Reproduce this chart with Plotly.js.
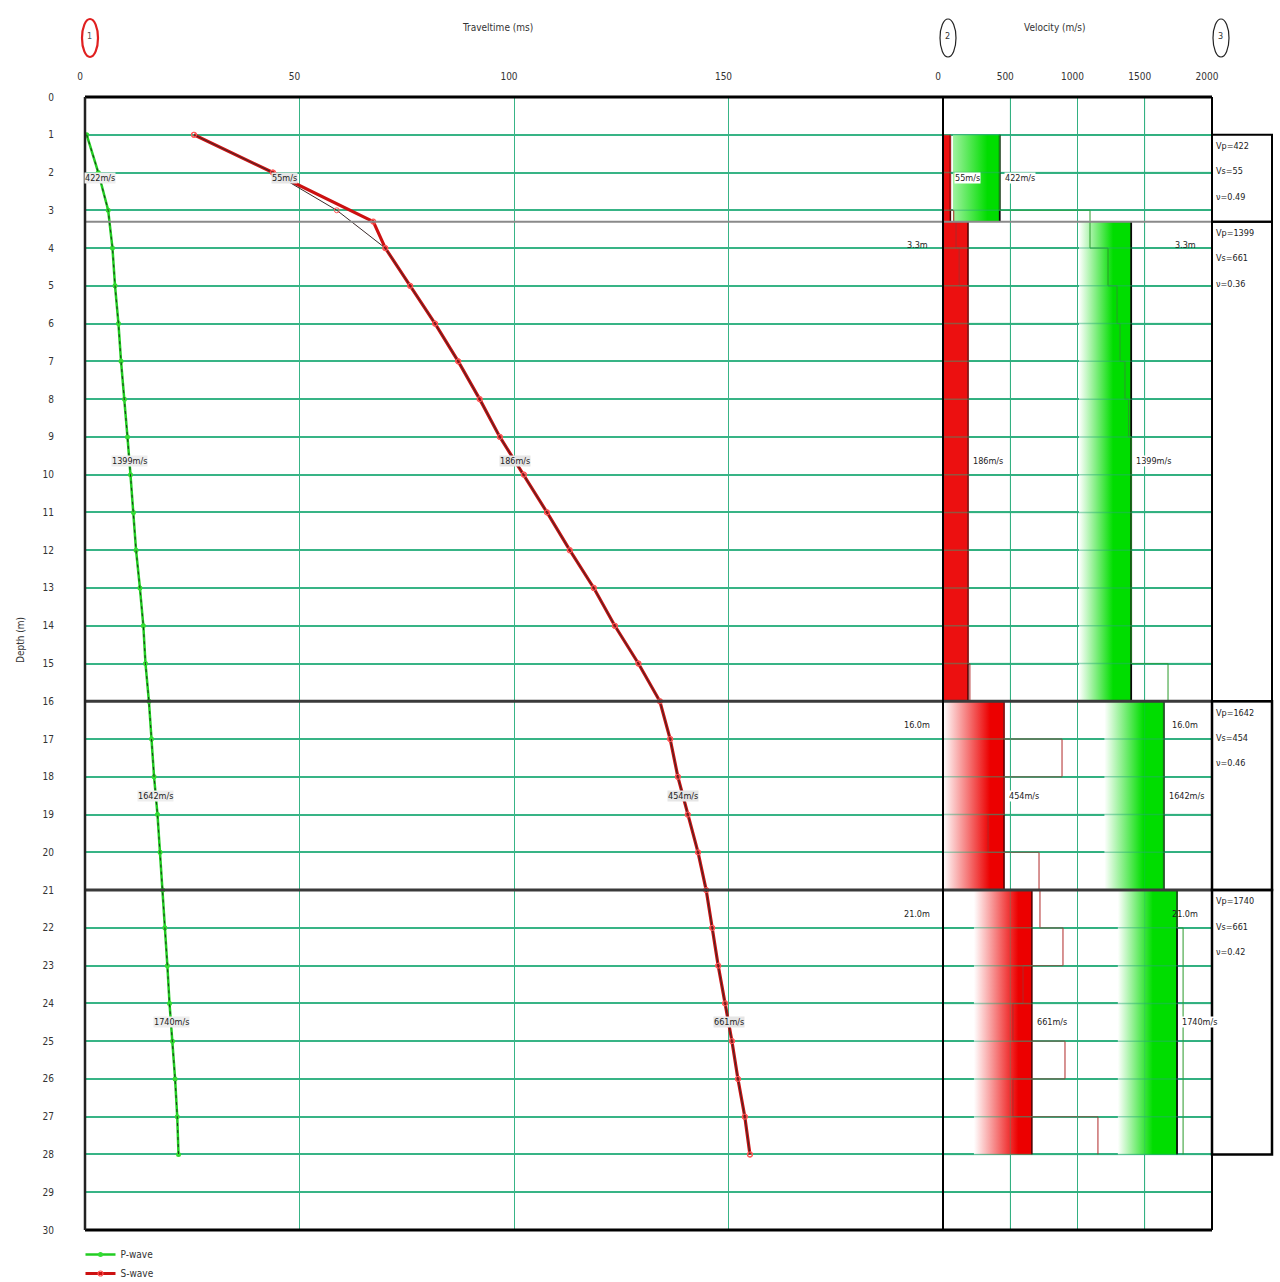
<!DOCTYPE html>
<html><head><meta charset="utf-8">
<script src="https://cdn.plot.ly/plotly-3.0.1.min.js"></script>
<style>html,body{margin:0;padding:0;background:#fff}#chart{width:1280px;height:1282px}</style>
</head><body><div id="chart"></div>
<script>
// ---------------- DATA ----------------
const depths = [1,2,3,4,5,6,7,8,9,10,11,12,13,14,15,16,17,18,19,20,21,22,23,24,25,26,27,28];
const pTime  = [0.4,3.1,5.4,6.4,7.0,7.8,8.4,9.2,9.9,10.6,11.3,11.9,12.8,13.6,14.1,14.9,15.5,16.1,16.9,17.5,18.1,18.6,19.2,19.7,20.4,21.0,21.5,21.8];
const sTime  = [25.4,43.8,58.7,70.0,75.8,81.6,87.0,92.0,96.7,102.3,107.7,113.0,118.6,123.5,129.0,134.0,136.4,138.2,140.5,142.9,144.8,146.2,147.6,149.2,150.8,152.2,153.8,155.0];
const sKneeDepth = 3.3;
const sKneeTime  = 67.2;

const layerTop    = [1, 3.3, 16, 21];
const layerBottom = [3.3, 16, 21, 28];
const vp = [422, 1399, 1642, 1740];
const vs = [55, 186, 454, 661];
const boxVs   = [55, 661, 454, 661];
const poisson = ["0.49", "0.36", "0.46", "0.42"];
const boundaryDepths = [3.3, 16.0, 21.0];
const boundaryLabels = ["3.3m", "16.0m", "21.0m"];

const stepDepth = [1,2,3,3.3,4,5,6,7,8,9,10,11,12,13,14,15,16,17,18,19,20,21,22,23,24,25,26,27,28];
const vsStep = [55,55,80,97,120,186,186,186,186,186,186,186,186,186,186,200,454,885,454,335,714,721,892,595,520,907,520,1152];
const vpStep = [422,422,1093,1093,1227,1294,1316,1353,1380,1399,1399,1399,1399,1399,1399,1673,1642,1642,1642,1642,1642,1740,1785,1785,1785,1785,1785,1785];

const timeTicks = [0, 50, 100, 150];
const velTicks  = [0, 500, 1000, 1500, 2000];
const depthTicks = [0,1,2,3,4,5,6,7,8,9,10,11,12,13,14,15,16,17,18,19,20,21,22,23,24,25,26,27,28,29,30];

// ---------------- STYLE ----------------
const FONT = "'Liberation Sans Narrow', 'DejaVu Sans Condensed', 'Liberation Sans', Arial, sans-serif";
const GRID = '#38b486';
const pBarLeft   = [74, 1011, 1200, 1300];
const pGradStart = [-80, 1011, 1200, 1300];
const pGradStop  = [330, 1265, 1490, 1560];
const sBarLeft   = [0, 0, 0, 230];
const sGradStart = [null, null, 0, 230];
const sGradStop  = [null, null, 350, 560];

// pixel -> paper helpers (plot area 85..1212 x 97..1230)
const L = 85, R = 1212, T = 97, B = 1230;
const PX = px => (px - L) / (R - L);
const PY = py => (B - py) / (B - T);
const split = PX(943);

function interp(ys, xs, d) {
  for (let i = 0; i < ys.length - 1; i++) {
    if (d >= ys[i] && d <= ys[i+1]) {
      const t = (d - ys[i]) / (ys[i+1] - ys[i]);
      return xs[i] + t * (xs[i+1] - xs[i]);
    }
  }
  return xs[xs.length - 1];
}

const traces = [];

// velocity bars
for (let i = 0; i < vp.length; i++) {
  const a = layerTop[i], b = layerBottom[i];
  traces.push({
    type: 'scatter', mode: 'lines', xaxis: 'x2', yaxis: 'y', showlegend: false, hoverinfo: 'skip',
    x: [pBarLeft[i], vp[i], vp[i], pBarLeft[i], pBarLeft[i]], y: [a, a, b, b, a],
    fill: 'toself', line: {width: 0},
    fillgradient: {type: 'horizontal', start: pGradStart[i], stop: pGradStop[i],
      colorscale: [[0, '#ffffff'], [1, '#00dd00']]}
  });
  const sTr = {
    type: 'scatter', mode: 'lines', xaxis: 'x2', yaxis: 'y', showlegend: false, hoverinfo: 'skip',
    x: [sBarLeft[i], vs[i], vs[i], sBarLeft[i], sBarLeft[i]], y: [a, a, b, b, a],
    fill: 'toself', line: {width: 0}
  };
  if (sGradStart[i] === null) sTr.fillcolor = '#ec1010';
  else sTr.fillgradient = {type: 'horizontal', start: sGradStart[i], stop: sGradStop[i],
      colorscale: [[0, '#ffffff'], [1, '#ec0000']]};
  traces.push(sTr);
}
// bar right edges
const pe = {x: [], y: []}, se = {x: [], y: []};
for (let i = 0; i < vp.length; i++) {
  pe.x.push(vp[i], vp[i], null); pe.y.push(layerTop[i], layerBottom[i], null);
  se.x.push(vs[i], vs[i], null); se.y.push(layerTop[i], layerBottom[i], null);
}
traces.push({type: 'scatter', mode: 'lines', xaxis: 'x2', yaxis: 'y', showlegend: false, hoverinfo: 'skip',
  x: pe.x, y: pe.y, line: {color: '#0a0a0a', width: 1.8}});
traces.push({type: 'scatter', mode: 'lines', xaxis: 'x2', yaxis: 'y', showlegend: false, hoverinfo: 'skip',
  x: se.x, y: se.y, line: {color: '#4a0000', width: 1.5}});
// interval velocity steps
traces.push({type: 'scatter', mode: 'lines', xaxis: 'x2', yaxis: 'y', showlegend: false, hoverinfo: 'skip',
  x: vsStep.concat([vsStep[vsStep.length-1]]), y: stepDepth, line: {color: '#b02828', width: 1, shape: 'vh'}});
traces.push({type: 'scatter', mode: 'lines', xaxis: 'x2', yaxis: 'y', showlegend: false, hoverinfo: 'skip',
  x: vpStep.concat([vpStep[vpStep.length-1]]), y: stepDepth, line: {color: '#2a9a2a', width: 1, shape: 'vh'}});

// traveltime curves
traces.push({type: 'scatter', mode: 'lines+markers', name: 'P-wave', xaxis: 'x', yaxis: 'y',
  x: pTime, y: depths, line: {color: '#22cc22', width: 2.5},
  marker: {color: '#33dd33', size: 5, symbol: 'circle'}});
traces.push({type: 'scatter', mode: 'lines', xaxis: 'x', yaxis: 'y', showlegend: false, hoverinfo: 'skip',
  x: pTime, y: depths, line: {color: '#1a3a1a', width: 1, dash: '3px,4px'}});

const redX = sTime.slice(0, 2).concat([sKneeTime], sTime.slice(3));
const redY = depths.slice(0, 2).concat([sKneeDepth], depths.slice(3));
traces.push({type: 'scatter', mode: 'lines+markers', name: 'S-wave', xaxis: 'x', yaxis: 'y',
  x: redX, y: redY, line: {color: '#cc1111', width: 3.2},
  marker: {color: '#ff4d4d', size: 5, symbol: 'circle-open', line: {width: 1.2}}});
traces.push({type: 'scatter', mode: 'lines+markers', xaxis: 'x', yaxis: 'y', showlegend: false, hoverinfo: 'skip',
  x: sTime, y: depths, line: {color: '#3a2a2a', width: 1},
  marker: {color: '#ff5a5a', size: 5, symbol: 'circle-open', line: {width: 1}}});

// ---------------- SHAPES ----------------
const shapes = [];
// faint grid over the velocity bars
depthTicks.slice(1, -1).forEach(d => {
  shapes.push({type: 'line', xref: 'x2', yref: 'y', x0: 0, x1: 2000, y0: d, y1: d,
    line: {color: 'rgba(40,170,120,0.45)', width: 1.5}, layer: 'above'});
});
velTicks.slice(1, -1).forEach(v => {
  shapes.push({type: 'line', xref: 'x2', yref: 'paper', x0: v, x1: v, y0: 0, y1: 1,
    line: {color: 'rgba(40,170,120,0.35)', width: 1}, layer: 'above'});
});
// layer boundaries
boundaryDepths.forEach((d, i) => {
  shapes.push({type: 'line', xref: 'paper', yref: 'y', x0: 0, x1: 1, y0: d, y1: d,
    line: {color: i === 0 ? '#8a8a8a' : '#3a3a3a', width: i === 0 ? 2 : 3}, layer: 'above'});
});
// frame
const fr = {color: '#000', width: 3};
shapes.push({type: 'line', xref: 'paper', yref: 'paper', x0: 0, x1: 1, y0: 1, y1: 1, line: fr});
shapes.push({type: 'line', xref: 'paper', yref: 'paper', x0: 0, x1: 1, y0: 0, y1: 0, line: fr});
shapes.push({type: 'line', xref: 'paper', yref: 'paper', x0: 0, x1: 0, y0: 0, y1: 1, line: {color: '#222', width: 2.5}});
shapes.push({type: 'line', xref: 'paper', yref: 'paper', x0: 1, x1: 1, y0: 0, y1: 1, line: {color: '#000', width: 2}});
shapes.push({type: 'line', xref: 'paper', yref: 'paper', x0: split, x1: split, y0: 0, y1: 1, line: {color: '#000', width: 2}});
// annotation boxes
for (let i = 0; i < vp.length; i++) {
  shapes.push({type: 'rect', xref: 'paper', yref: 'y', x0: 1, x1: PX(1272),
    y0: layerTop[i], y1: layerBottom[i], line: {color: '#000', width: i >= 2 ? 2.5 : 2}});
}
// circled numbers
[[90, '#e02020', 2.2], [948, '#222', 1.2], [1221, '#222', 1.2]].forEach(c => {
  shapes.push({type: 'circle', xref: 'paper', yref: 'paper', x0: PX(c[0] - 8), x1: PX(c[0] + 8),
    y0: PY(57), y1: PY(19), line: {color: c[1], width: c[2]}});
});

// ---------------- ANNOTATIONS ----------------
const ann = [];
const tf = (s, c) => ({family: FONT, size: s, color: c || '#333'});
const pa = (px, py, text, font, extra) => Object.assign({xref: 'paper', yref: 'paper', x: PX(px), y: PY(py),
  xanchor: 'center', yanchor: 'middle', text: text, showarrow: false, font: font}, extra || {});
ann.push(pa(89, 36, '1', tf(9, '#555')));
ann.push(pa(947, 36, '2', tf(9, '#333')));
ann.push(pa(1220, 36, '3', tf(9, '#333')));
ann.push(pa(497, 28, 'Traveltime (ms)', tf(10)));
ann.push(pa(1055, 28, 'Velocity (m/s)', tf(10)));
ann.push(pa(20, 640, 'Depth (m)', tf(10), {textangle: -90}));

for (let i = 0; i < vp.length; i++) {
  const mid = (layerTop[i] + layerBottom[i]) / 2;
  // left panel labels on curves
  ann.push({xref: 'x', yref: 'y', x: interp(depths, pTime, mid), y: mid, text: vp[i] + 'm/s',
    showarrow: false, font: tf(9, '#222'), bgcolor: '#eeeeee', borderpad: 0});
  ann.push({xref: 'x', yref: 'y', x: interp(redY, redX, mid), y: mid, text: vs[i] + 'm/s',
    showarrow: false, font: tf(9, '#222'), bgcolor: '#e6e6e6', borderpad: 0});
  // velocity panel labels
  ann.push({xref: 'x2', yref: 'y', x: vs[i], y: mid, xanchor: 'left', xshift: 4, text: vs[i] + 'm/s',
    showarrow: false, font: tf(9, '#222'), bgcolor: '#ffffff', borderpad: 0});
  ann.push({xref: 'x2', yref: 'y', x: vp[i], y: mid, xanchor: 'left', xshift: 4, text: vp[i] + 'm/s',
    showarrow: false, font: tf(9, '#222'), bgcolor: '#ffffff', borderpad: 0});
  // info boxes
  const lines = ['Vp=' + vp[i], 'Vs=' + boxVs[i], 'ν=' + poisson[i]];
  lines.forEach((t, k) => {
    ann.push({xref: 'paper', yref: 'y', x: PX(1214), xanchor: 'left', yanchor: 'middle',
      y: layerTop[i] + 0.3 + 0.67 * k, text: t, showarrow: false, font: tf(9, '#222')});
  });
}
boundaryDepths.forEach((d, i) => {
  ann.push({xref: 'x', yref: 'y', x: 194, y: d + 0.62, text: boundaryLabels[i], showarrow: false, font: tf(9, '#222')});
  ann.push({xref: 'x2', yref: 'y', x: 1800, y: d + 0.62, text: boundaryLabels[i], showarrow: false, font: tf(9, '#222')});
});

// ---------------- LAYOUT ----------------
const layout = {
  width: 1280, height: 1282,
  margin: {l: L, r: 1280 - R, t: T, b: 1282 - B, pad: 0, autoexpand: false},
  paper_bgcolor: '#fff', plot_bgcolor: '#fff',
  font: {family: FONT, size: 10, color: '#333'},
  showlegend: true,
  legend: {x: -0.004, xanchor: 'left', y: PY(1240), yanchor: 'top', bgcolor: 'rgba(0,0,0,0)',
    font: {family: FONT, size: 10, color: '#333'}, itemwidth: 30, tracegroupgap: 0},
  xaxis: {domain: [0, split], range: [0, 200], side: 'top', anchor: 'y', tickvals: timeTicks,
    showgrid: true, gridcolor: GRID, gridwidth: 1, zeroline: false, showline: false,
    ticks: '', ticklabelstandoff: 14, ticklabelshift: -5, tickfont: {family: FONT, size: 10, color: '#333'}},
  xaxis2: {domain: [split, 1], range: [0, 2000], side: 'top', anchor: 'y', tickvals: velTicks,
    showgrid: true, gridcolor: GRID, gridwidth: 1, zeroline: false, showline: false,
    ticks: '', ticklabelstandoff: 14, ticklabelshift: -5, tickfont: {family: FONT, size: 10, color: '#333'}},
  yaxis: {range: [30, 0], tickvals: depthTicks, showgrid: true, gridcolor: GRID, gridwidth: 2,
    zeroline: false, showline: false, ticks: '', ticklabelstandoff: 30,
    tickfont: {family: FONT, size: 10, color: '#333'}},
  shapes: shapes,
  annotations: ann
};

Plotly.newPlot('chart', traces, layout, {displayModeBar: false, responsive: false});
</script>
</body></html>
